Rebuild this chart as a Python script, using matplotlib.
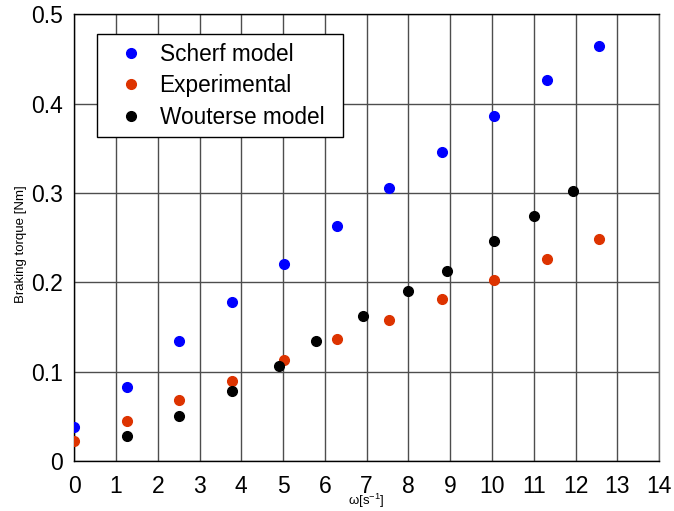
import matplotlib as mpl
mpl.use('Agg')
import matplotlib.pyplot as plt

plt.rcParams['font.family'] = ['Liberation Sans', 'DejaVu Sans']

omega = [0, 1.257, 2.513, 3.770, 5.027, 6.283, 7.540, 8.796, 10.053, 11.310, 12.566]
scherf = [0.038, 0.083, 0.134, 0.178, 0.221, 0.263, 0.305, 0.346, 0.386, 0.426, 0.465]
experimental = [0.022, 0.045, 0.068, 0.090, 0.113, 0.136, 0.158, 0.181, 0.203, 0.226, 0.248]

omega_w = [1.26, 2.52, 3.78, 4.91, 5.79, 6.91, 7.99, 8.93, 10.05, 11.00, 11.94]
wouterse = [0.028, 0.050, 0.078, 0.106, 0.134, 0.162, 0.190, 0.213, 0.246, 0.274, 0.302]

fig = plt.figure(figsize=(6.74, 5.11), dpi=100)
ax = fig.add_axes([0.110, 0.098, 0.868, 0.874])

ax.plot(omega, scherf, 'o', color='#0000ff', markersize=7, label='Scherf model', zorder=3)
ax.plot(omega, experimental, 'o', color='#dd3300', markersize=7, label='Experimental', zorder=3)
ax.plot(omega_w, wouterse, 'o', color='black', markersize=7, label='Wouterse model', zorder=3)

ax.set_xlim(0, 14)
ax.set_ylim(0, 0.5)
ax.set_xticks(range(0, 15))
ax.set_yticks([0, 0.1, 0.2, 0.3, 0.4, 0.5])
ax.set_yticklabels(['0', '0.1', '0.2', '0.3', '0.4', '0.5'])
ax.tick_params(labelsize=16.5, direction='in', length=0)
ax.tick_params(axis='x', pad=10)
ax.tick_params(axis='y', pad=8)
ax.grid(True, color='#4d4d4d', linewidth=1)
ax.set_axisbelow(True)
for s in ax.spines.values():
    s.set_color('black')
    s.set_linewidth(1)
ax.spines['right'].set_color('#666666')

ax.set_xlabel(r'$\mathregular{\omega[s^{-1}]}$', fontsize=9.5)
ax.xaxis.set_label_coords(0.5, -0.070)
ax.set_ylabel('Braking torque [Nm]', fontsize=9.5)
ax.yaxis.set_label_coords(-0.080, 0.486)

leg = ax.legend(loc='upper left', bbox_to_anchor=(0.0393, 0.0, 0.4207, 0.955),
                mode='expand', fontsize=16.3, fancybox=False, framealpha=1,
                edgecolor='black', handletextpad=0.15, borderpad=0.36,
                labelspacing=0.39, handlelength=2.25, borderaxespad=0)
leg.get_frame().set_linewidth(1)

plt.savefig('out.png', dpi=100)
